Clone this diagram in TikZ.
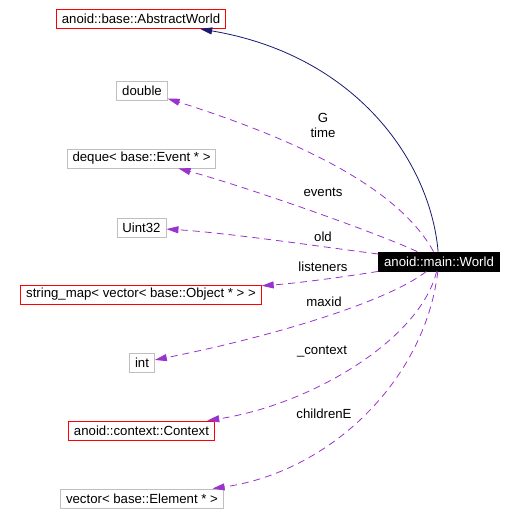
\documentclass[tikz,border=0pt]{standalone}
\usepackage{fontspec}
\setmainfont{Liberation Sans}
\usetikzlibrary{arrows.meta}
\definecolor{DGRed}{HTML}{FF0000}
\definecolor{DGGrey}{HTML}{BFBFBF}
\definecolor{DGNavy}{HTML}{191970}
\definecolor{DGPurple}{HTML}{9A32CD}
\tikzset{
  dgfont/.style={font=\fontsize{13.2}{15}\selectfont},
  dgbox/.style={dgfont,draw,line width=.9pt,inner xsep=5.4pt,inner ysep=0pt,minimum height=19pt},
  docbox/.style={dgbox,DGRed,text=black},
  extbox/.style={dgbox,DGGrey,text=black},
  curbox/.style={dgbox,fill=black,draw=black,text=white},
  inherit/.style={DGNavy,line width=.8pt,-{Triangle[length=12pt,width=7pt]}},
  member/.style={DGPurple,line width=.8pt,dash pattern=on 7pt off 5pt,-{Triangle[length=12pt,width=7pt]}},
  edgelabel/.style={dgfont,align=center,inner sep=0pt}
}
\begin{document}
\begin{tikzpicture}[x=1pt,y=-1pt]
\path[use as bounding box] (0,0) rectangle (513,529);
\fill[white] (0,0) rectangle (513,529);
\node[docbox] (abstract) at (141,19) {anoid::base::AbstractWorld};
\node[extbox] (double) at (142,90.5) {double};
\node[extbox] (deque) at (141.5,158.5) {deque< base::Event * >};
\node[extbox] (uint) at (141.5,227.5) {Uint32};
\node[docbox] (strmap) at (141,294.5) {string\_map< vector< base::Object * > >};
\node[extbox] (int) at (142,362.5) {int};
\node[docbox] (context) at (141.5,430.5) {anoid::context::Context};
\node[extbox] (element) at (142,498.5) {vector< base::Element * >};
\node[curbox] (world) at (439,261.5) {anoid::main::World};
\draw[inherit] (world) .. controls (430,160) and (355,55) .. (abstract);
\draw[member] (world) .. controls (405,200) and (330,150) .. (double);
\draw[member] (world) .. controls (370,230) and (240,185) .. (deque);
\draw[member] (world) .. controls (330,248) and (230,233) .. (uint);
\draw[member] (world) .. controls (350,276) and (300,283) .. (strmap);
\draw[member] (world) .. controls (390,300) and (280,335) .. (int);
\draw[member] (world) .. controls (420,340) and (310,405) .. (context);
\draw[member] (world) .. controls (425,380) and (330,472) .. (element);
\node[edgelabel] (lblgtime) at (323,125) {G\\time};
\node[edgelabel] (lblevents) at (323,192) {events};
\node[edgelabel] (lblold) at (323,237) {old};
\node[edgelabel] (lbllisteners) at (323,267) {listeners};
\node[edgelabel] (lblmaxid) at (324,302) {maxid};
\node[edgelabel] (lblcontext) at (322,352) {\_context};
\node[edgelabel] (lblchildren) at (324,414) {childrenE};
\end{tikzpicture}
\end{document}
